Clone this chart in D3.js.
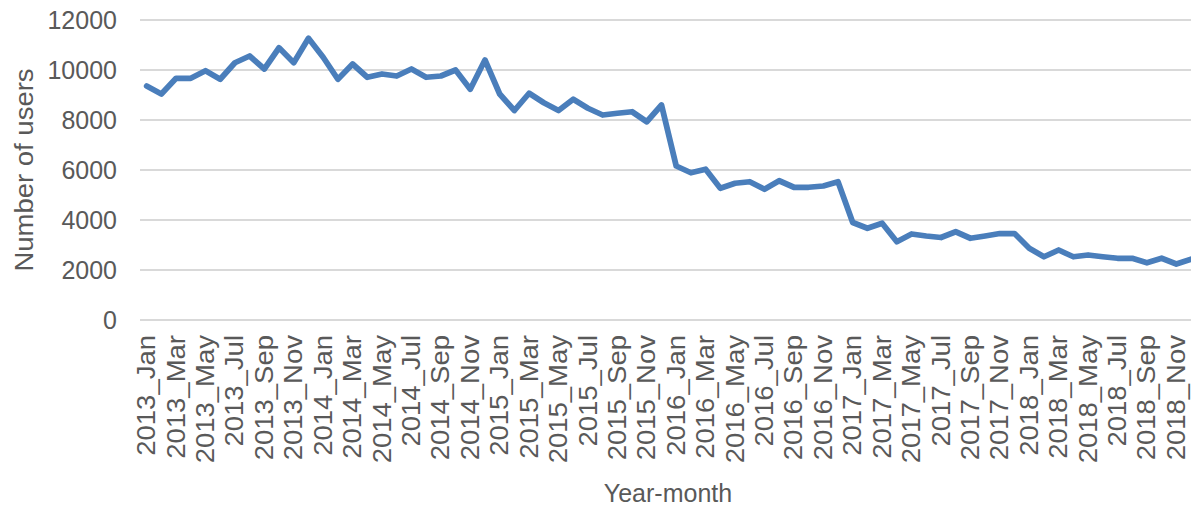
<!DOCTYPE html>
<html>
<head>
<meta charset="utf-8">
<script src="https://cdn.jsdelivr.net/npm/d3@7"></script>
<style>
  html, body { margin: 0; padding: 0; background: #ffffff; }
  svg { display: block; }
  text { font-family: "Liberation Sans", Arial, sans-serif; fill: #595959; }
</style>
</head>
<body>
<svg id="chart" width="1191" height="510"></svg>
<script>
const years = ["2013", "2014", "2015", "2016", "2017", "2018"];
const monthNames = ["Jan","Feb","Mar","Apr","May","Jun","Jul","Aug","Sep","Oct","Nov","Dec"];
const categories = years.flatMap(y => monthNames.map(m => y + "_" + m));
const users = [
  9360, 9040, 9670, 9670, 9970, 9630, 10290, 10560, 10040, 10890, 10290, 11270,
  10510, 9630, 10240, 9710, 9840, 9760, 10040, 9710, 9760, 10000, 9230, 10400,
  9040, 8380, 9070, 8690, 8380, 8830, 8470, 8200, 8270, 8330, 7930, 8600,
  6160, 5890, 6030, 5270, 5470, 5530, 5230, 5570, 5310, 5310, 5360, 5530,
  3900, 3670, 3870, 3130, 3440, 3360, 3300, 3530, 3270, 3360, 3460, 3460,
  2870, 2530, 2800, 2530, 2600, 2530, 2470, 2470, 2290, 2470, 2240, 2430
];
const yTicks = [0, 2000, 4000, 6000, 8000, 10000, 12000];
const tickLabels = categories.filter((c, i) => i % 2 === 0);

const svg = d3.select("#chart");
const x = d3.scaleBand().domain(categories).range([139.3, 1198.4]);
const y = d3.scaleLinear().domain([0, 12000]).range([320, 20]);
const cx = d => x(d) + x.bandwidth() / 2;

// gridlines
svg.append("g").selectAll("line").data(yTicks).join("line")
  .attr("x1", 140).attr("x2", 1200)
  .attr("y1", d => y(d)).attr("y2", d => y(d))
  .attr("stroke", "#d9d9d9").attr("stroke-width", 2);

// y tick labels
svg.append("g").selectAll("text").data(yTicks).join("text")
  .attr("x", 117).attr("y", d => y(d))
  .attr("text-anchor", "end").attr("dominant-baseline", "central")
  .attr("font-size", 25)
  .text(d => d);

// x tick labels
svg.append("g").selectAll("text").data(tickLabels).join("text")
  .attr("transform", d => `translate(${cx(d)},335) rotate(-90) scale(1.1,1)`)
  .attr("text-anchor", "end").attr("dominant-baseline", "central")
  .attr("font-size", 25)
  .text(d => d);

// line
const line = d3.line().x((d, i) => cx(categories[i])).y(d => y(d));
svg.append("path").datum(users)
  .attr("d", line)
  .attr("fill", "none").attr("stroke", "#4a7ebb")
  .attr("stroke-width", 5.75).attr("stroke-linejoin", "round").attr("stroke-linecap", "round");

// axis titles
svg.append("text")
  .attr("transform", "translate(24,170) rotate(-90) scale(1.1,1)")
  .attr("text-anchor", "middle").attr("dominant-baseline", "central")
  .attr("font-size", 25)
  .text("Number of users");

svg.append("text")
  .attr("x", 668).attr("y", 493)
  .attr("text-anchor", "middle").attr("dominant-baseline", "central")
  .attr("font-size", 25)
  .text("Year-month");
</script>
</body>
</html>
